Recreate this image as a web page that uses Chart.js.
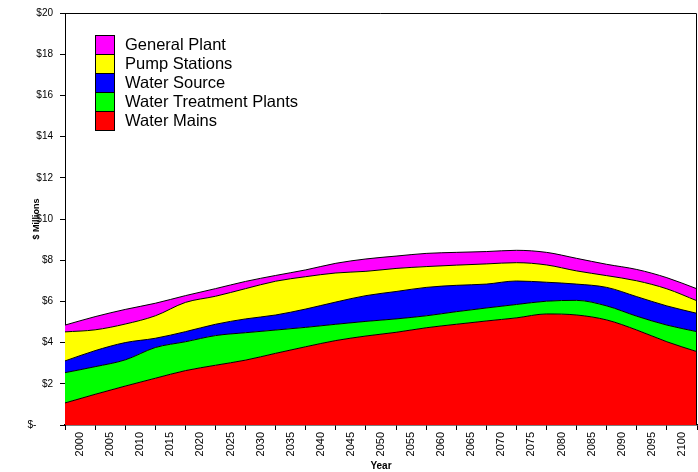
<!DOCTYPE html>
<html>
<head>
<meta charset="utf-8">
<script src="https://cdn.jsdelivr.net/npm/chart.js@4/dist/chart.umd.min.js"></script>
<style>
  html, body { margin: 0; padding: 0; background: #fff; }
  #wrap { position: relative; width: 698px; height: 472px; }
</style>
</head>
<body>
<div id="wrap"><canvas id="chart"></canvas></div>
<script>
// values in $ millions at 5-year steps
var years = [2000, 2005, 2010, 2015, 2020, 2025, 2030, 2035, 2040, 2045, 2050,
             2055, 2060, 2065, 2070, 2075, 2080, 2085, 2090, 2095, 2100, 2105];
var waterMains = [1.07, 1.49, 1.89, 2.27, 2.64, 2.90, 3.15, 3.48, 3.80, 4.10, 4.32,
                  4.50, 4.72, 4.89, 5.05, 5.20, 5.39, 5.34, 5.10, 4.61, 4.04, 3.56];
var treatmentPlants = [1.47, 1.34, 1.27, 1.49, 1.40, 1.44, 1.33, 1.13, 0.94, 0.79, 0.71,
                       0.65, 0.58, 0.61, 0.63, 0.65, 0.62, 0.71, 0.68, 0.67, 0.81, 0.97];
var waterSource = [0.57, 0.78, 0.84, 0.45, 0.49, 0.55, 0.67, 0.73, 0.89, 1.08, 1.25,
                   1.33, 1.38, 1.28, 1.16, 1.14, 0.92, 0.79, 0.90, 0.95, 0.93, 0.89];
var pumpStations = [1.41, 1.01, 0.90, 1.09, 1.42, 1.36, 1.47, 1.64, 1.57, 1.41, 1.18,
                    1.12, 1.01, 0.98, 0.98, 0.89, 0.84, 0.64, 0.57, 0.77, 0.83, 0.61];
var generalPlant = [0.33, 0.64, 0.71, 0.61, 0.33, 0.37, 0.35, 0.28, 0.33, 0.47, 0.60,
                    0.60, 0.64, 0.62, 0.60, 0.60, 0.61, 0.61, 0.55, 0.55, 0.54, 0.58];
var yTicks = [0, 2, 4, 6, 8, 10, 12, 14, 16, 18, 20];

var FONT = "'Liberation Sans', Arial, sans-serif";

function toPoints(arr) {
  return arr.map(function(v, i) { return { x: years[i], y: v }; });
}

function makeSet(label, arr, color, fill) {
  return {
    label: label,
    data: toPoints(arr),
    backgroundColor: color,
    borderColor: '#000',
    borderWidth: 1,
    pointRadius: 0,
    fill: fill,
    cubicInterpolationMode: 'monotone',
  };
}

// legend drawn inside the plot, top entry = last dataset
var boxLegend = {
  id: 'boxLegend',
  afterDraw: function(chart) {
    var ctx = chart.ctx;
    var sets = chart.data.datasets.slice().reverse();
    var x = 95.5, y = 35.5, h = 19;
    ctx.save();
    ctx.font = '16.5px ' + FONT;
    ctx.textBaseline = 'middle';
    sets.forEach(function(ds, i) {
      ctx.fillStyle = ds.backgroundColor;
      ctx.fillRect(x, y + i * h, 19, h);
      ctx.strokeStyle = '#000';
      ctx.lineWidth = 1;
      ctx.strokeRect(x, y + i * h, 19, h);
      ctx.fillStyle = '#000';
      ctx.fillText(ds.label, 125, y + i * h + h / 2);
    });
    // plot frame
    var a = chart.chartArea;
    ctx.strokeStyle = '#000';
    ctx.beginPath();
    ctx.moveTo(a.left, a.top + 0.5);
    ctx.lineTo(a.right - 0.5, a.top + 0.5);
    ctx.lineTo(a.right - 0.5, a.bottom);
    ctx.stroke();
    ctx.restore();
  }
};

new Chart(document.getElementById('chart'), {
  type: 'line',
  data: {
    datasets: [
      makeSet('Water Mains', waterMains, '#FF0000', 'origin'),
      makeSet('Water Treatment Plants', treatmentPlants, '#00FF00', '-1'),
      makeSet('Water Source', waterSource, '#0000FF', '-1'),
      makeSet('Pump Stations', pumpStations, '#FFFF00', '-1'),
      makeSet('General Plant', generalPlant, '#FF00FF', '-1'),
    ],
  },
  options: {
    responsive: true,
    maintainAspectRatio: false,
    animation: false,
    layout: { autoPadding: false, padding: { top: 13, right: 1, bottom: 0, left: 0 } },
    plugins: {
      legend: { display: false },
      tooltip: { enabled: false },
    },
    scales: {
      x: {
        type: 'linear',
        min: 2000,
        max: 2105,
        afterFit: function(s) {
          s.height = 47;
          s.paddingLeft = 0;
          s.paddingRight = 0;
        },
        afterBuildTicks: function(s) {
          var t = [];
          for (var v = 2000; v <= 2105; v += 5) t.push({ value: v });
          s.ticks = t;
        },
        ticks: {
          autoSkip: false,
          minRotation: 90,
          maxRotation: 90,
          labelOffset: 15,
          padding: 2,
          color: '#000',
          font: { family: FONT, size: 11 },
          callback: function(v) { return v > 2100 ? '' : String(v); },
        },
        grid: { drawOnChartArea: false, drawTicks: true, tickLength: 5, color: '#000' },
        border: { color: '#000', width: 1.5 },
        title: {
          display: true,
          text: 'Year',
          color: '#000',
          padding: 0,
          font: { family: FONT, size: 10, weight: 'bold' },
        },
      },
      y: {
        stacked: true,
        min: 0,
        max: 20,
        afterFit: function(s) {
          s.width = 65;
          s.paddingTop = 0;
          s.paddingBottom = 0;
        },
        afterBuildTicks: function(s) {
          s.ticks = yTicks.map(function(v) { return { value: v }; });
        },
        ticks: {
          padding: 7,
          color: '#000',
          font: { family: FONT, size: 10 },
          callback: function(v) { return v === 0 ? '$-      ' : '$' + v; },
        },
        grid: { drawOnChartArea: false, drawTicks: true, tickLength: 5, color: '#000' },
        border: { color: '#000', width: 1 },
        title: {
          display: true,
          text: '$ Millions',
          color: '#000',
          padding: { top: 31, bottom: 0 },
          font: { family: FONT, size: 9, weight: 'bold' },
        },
      },
    },
  },
  plugins: [boxLegend],
});
</script>
</body>
</html>
